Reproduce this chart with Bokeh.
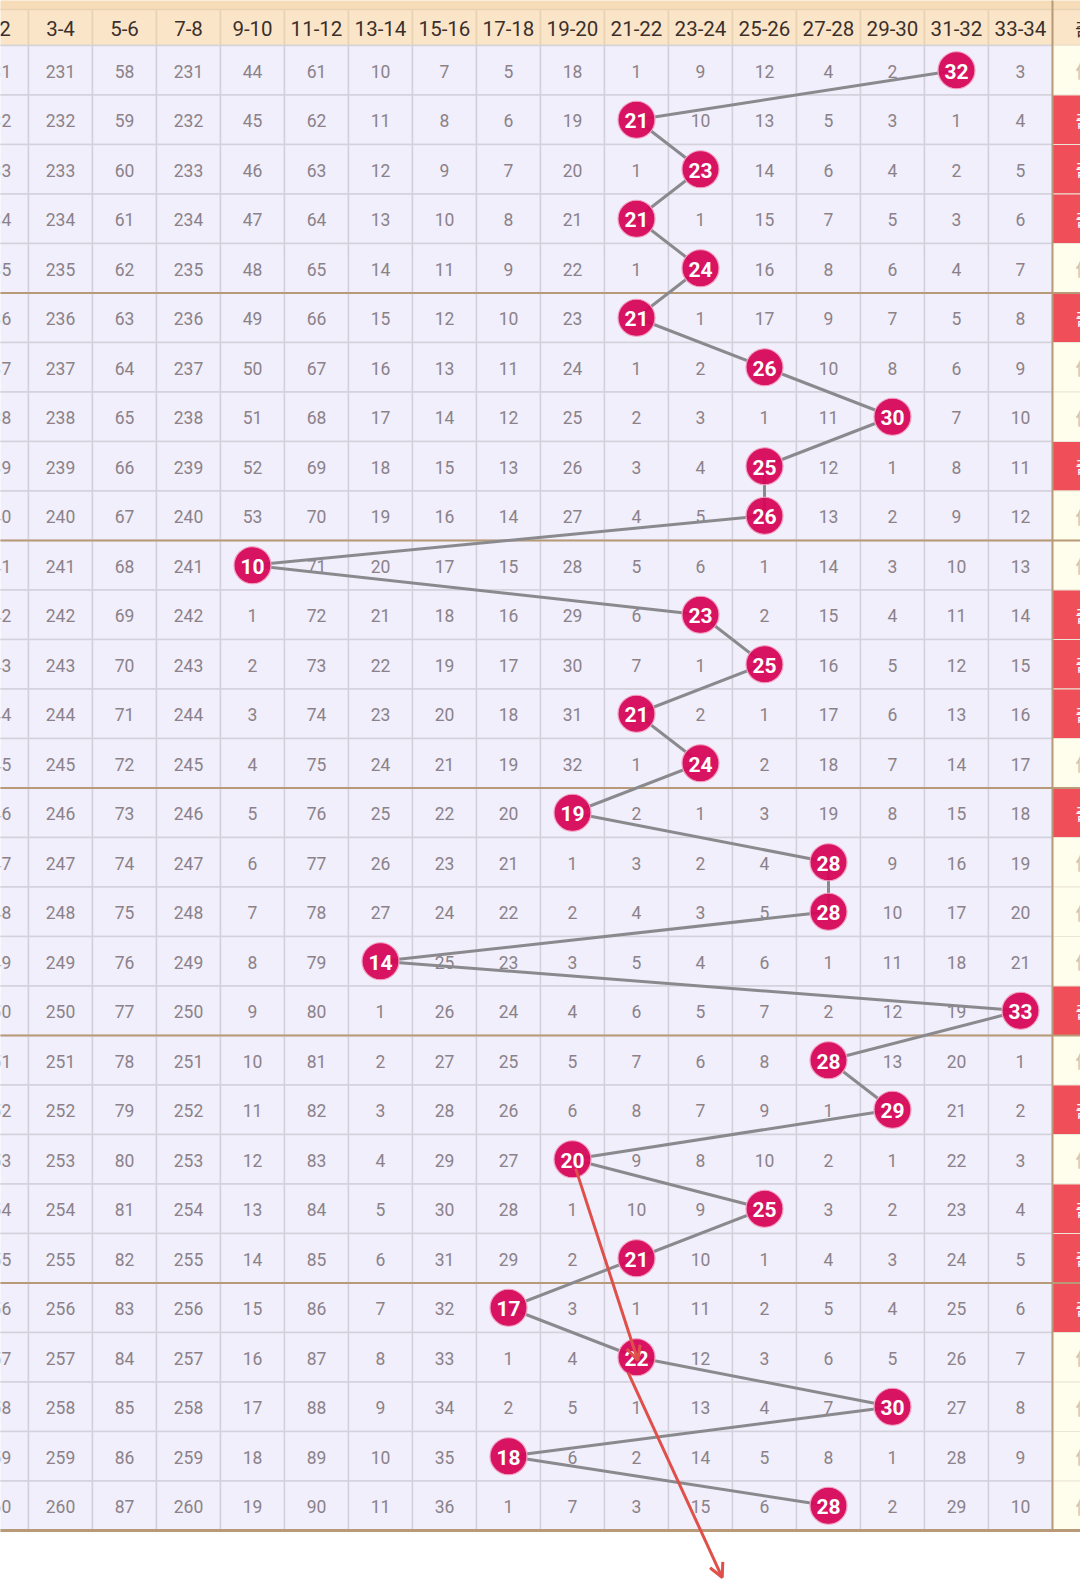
from bokeh.plotting import figure
from bokeh.models import Range1d, ColumnDataSource, Arrow, OpenHead
from bokeh.core.properties import value
from bokeh.embed import file_html
from bokeh.resources import INLINE

# ---------------- data ----------------
headers = ["1-2", "3-4", "5-6", "7-8", "9-10", "11-12", "13-14", "15-16", "17-18",
           "19-20", "21-22", "23-24", "25-26", "27-28", "29-30", "31-32", "33-34"]
side_header = "奇偶"
rows = list(range(1, 31))
balls = [32, 21, 23, 21, 24, 21, 26, 30, 25, 26, 10, 23, 25, 21, 24,
         19, 28, 28, 14, 33, 28, 29, 20, 25, 21, 17, 22, 30, 18, 28]

miss_01_02 = [231, 232, 233, 234, 235, 236, 237, 238, 239, 240, 241, 242, 243, 244, 245,
              246, 247, 248, 249, 250, 251, 252, 253, 254, 255, 256, 257, 258, 259, 260]
miss_03_04 = [231, 232, 233, 234, 235, 236, 237, 238, 239, 240, 241, 242, 243, 244, 245,
              246, 247, 248, 249, 250, 251, 252, 253, 254, 255, 256, 257, 258, 259, 260]
miss_05_06 = [58, 59, 60, 61, 62, 63, 64, 65, 66, 67, 68, 69, 70, 71, 72,
              73, 74, 75, 76, 77, 78, 79, 80, 81, 82, 83, 84, 85, 86, 87]
miss_07_08 = [231, 232, 233, 234, 235, 236, 237, 238, 239, 240, 241, 242, 243, 244, 245,
              246, 247, 248, 249, 250, 251, 252, 253, 254, 255, 256, 257, 258, 259, 260]
miss_09_10 = [44, 45, 46, 47, 48, 49, 50, 51, 52, 53, 0, 1, 2, 3, 4,
              5, 6, 7, 8, 9, 10, 11, 12, 13, 14, 15, 16, 17, 18, 19]
miss_11_12 = [61, 62, 63, 64, 65, 66, 67, 68, 69, 70, 71, 72, 73, 74, 75,
              76, 77, 78, 79, 80, 81, 82, 83, 84, 85, 86, 87, 88, 89, 90]
miss_13_14 = [10, 11, 12, 13, 14, 15, 16, 17, 18, 19, 20, 21, 22, 23, 24,
              25, 26, 27, 0, 1, 2, 3, 4, 5, 6, 7, 8, 9, 10, 11]
miss_15_16 = [7, 8, 9, 10, 11, 12, 13, 14, 15, 16, 17, 18, 19, 20, 21,
              22, 23, 24, 25, 26, 27, 28, 29, 30, 31, 32, 33, 34, 35, 36]
miss_17_18 = [5, 6, 7, 8, 9, 10, 11, 12, 13, 14, 15, 16, 17, 18, 19,
              20, 21, 22, 23, 24, 25, 26, 27, 28, 29, 0, 1, 2, 0, 1]
miss_19_20 = [18, 19, 20, 21, 22, 23, 24, 25, 26, 27, 28, 29, 30, 31, 32,
              0, 1, 2, 3, 4, 5, 6, 0, 1, 2, 3, 4, 5, 6, 7]
miss_21_22 = [1, 0, 1, 0, 1, 0, 1, 2, 3, 4, 5, 6, 7, 0, 1,
              2, 3, 4, 5, 6, 7, 8, 9, 10, 0, 1, 0, 1, 2, 3]
miss_23_24 = [9, 10, 0, 1, 0, 1, 2, 3, 4, 5, 6, 0, 1, 2, 0,
              1, 2, 3, 4, 5, 6, 7, 8, 9, 10, 11, 12, 13, 14, 15]
miss_25_26 = [12, 13, 14, 15, 16, 17, 0, 1, 0, 0, 1, 2, 0, 1, 2,
              3, 4, 5, 6, 7, 8, 9, 10, 0, 1, 2, 3, 4, 5, 6]
miss_27_28 = [4, 5, 6, 7, 8, 9, 10, 11, 12, 13, 14, 15, 16, 17, 18,
              19, 0, 0, 1, 2, 0, 1, 2, 3, 4, 5, 6, 7, 8, 0]
miss_29_30 = [2, 3, 4, 5, 6, 7, 8, 0, 1, 2, 3, 4, 5, 6, 7,
              8, 9, 10, 11, 12, 13, 0, 1, 2, 3, 4, 5, 0, 1, 2]
miss_31_32 = [0, 1, 2, 3, 4, 5, 6, 7, 8, 9, 10, 11, 12, 13, 14,
              15, 16, 17, 18, 19, 20, 21, 22, 23, 24, 25, 26, 27, 28, 29]
miss_33_34 = [3, 4, 5, 6, 7, 8, 9, 10, 11, 12, 13, 14, 15, 16, 17,
              18, 19, 20, 21, 0, 1, 2, 3, 4, 5, 6, 7, 8, 9, 10]

miss_columns = [miss_01_02, miss_03_04, miss_05_06, miss_07_08, miss_09_10, miss_11_12,
                miss_13_14, miss_15_16, miss_17_18, miss_19_20, miss_21_22, miss_23_24,
                miss_25_26, miss_27_28, miss_29_30, miss_31_32, miss_33_34]

# hand-drawn red annotation arrows (column units, row units)
arrow_x_start = [9.05, 9.87]
arrow_y_start = [23.19, 27.31]
arrow_x_end = [10.02, 11.34]
arrow_y_end = [27.06, 31.45]

# ---------------- styles ----------------
FONT = "Roboto"
CELL_BG = "#f0effb"
GRID = "#d3d1dc"
HEAD_BG = "#fae5c9"
HEAD_TOP = "#f6dcb8"
HEAD_TXT = "#3b302c"
CELL_TXT = "#8c8189"
BALL = "#d6075a"
SEP = "#b99a78"
CREAM = "#fffdeb"
RED = "#f04f59"
LINE = "#8a8a8e"
ARROW = "#e0504b"

ncol = len(headers)
p = figure(width=1080, height=1580,
           x_range=Range1d(0.0625, 16.9375), y_range=Range1d(31.5101, -0.4091),
           output_backend="svg", toolbar_location=None, min_border=0,
           x_axis_location=None, y_axis_location=None)
p.grid.visible = False
p.outline_line_color = None
p.background_fill_color = "white"
p.border_fill_color = "white"

# header
hx = list(range(ncol))
p.quad(left=-0.5, right=17.6, top=-0.45, bottom=-0.2273, fill_color=HEAD_TOP, line_color=None)
p.rect(x=hx, y=0.1364, width=1, height=0.7273, fill_color=HEAD_BG, line_color="#e8d2b4", line_width=1.5)
p.rect(x=[17.05], y=0.1364, width=1.1, height=0.7273, fill_color=HEAD_BG, line_color="#e8d2b4", line_width=1.5)
p.text(x=hx, y=0.15, text=headers, text_align="center", text_baseline="middle",
       text_font=value(FONT), text_font_size="20.5px", text_color=HEAD_TXT)
p.text(x=[17.15], y=0.15, text=[side_header], text_align="center", text_baseline="middle",
       text_font=value("Noto Sans CJK SC"), text_font_size="19px", text_color=HEAD_TXT)

# body cells
cx, cy, ct = [], [], []
for k, col in enumerate(miss_columns):
    for r, v in zip(rows, col):
        cx.append(k)
        cy.append(r)
        ct.append("" if v == 0 else str(v))
p.rect(x=cx, y=cy, width=1, height=1, fill_color=CELL_BG, line_color=GRID, line_width=1.5)
p.text(x=cx, y=[y + 0.02 for y in cy], text=ct, text_align="center", text_baseline="middle",
       text_font=value(FONT), text_font_size="17.5px", text_color=CELL_TXT)

# odd / even column
odd = [b % 2 == 1 for b in balls]
p.rect(x=[17] * len(rows), y=rows, width=1, height=1,
       fill_color=[RED if o else CREAM for o in odd], line_color="#ece6d6", line_width=1)
p.text(x=[17] * len(rows), y=rows, text=["奇" if o else "偶" for o in odd],
       text_align="center", text_baseline="middle", text_font=value("Noto Sans CJK SC"),
       text_font_size="18px", text_color=["white" if o else "#c9c4b8" for o in odd])

# separators
sep_y = [5.5, 10.5, 15.5, 20.5, 25.5]
p.segment(x0=-0.5, x1=17.6, y0=sep_y, y1=sep_y, line_color=SEP, line_width=2)
p.segment(x0=-0.5, x1=17.6, y0=[30.5], y1=[30.5], line_color=SEP, line_width=3)
p.segment(x0=[16.5], x1=[16.5], y0=[-0.45], y1=[30.5], line_color=SEP, line_width=2)

# trend line, balls
bx = [(b - 1) // 2 for b in balls]
p.line(x=bx, y=rows, line_color=LINE, line_width=3)
p.scatter(x=bx, y=rows, size=37, fill_color=BALL, fill_alpha=0.95,
          line_color="#f3a0c0", line_width=1.2)
p.text(x=bx, y=[r + 0.02 for r in rows], text=[str(b) for b in balls], text_align="center",
       text_baseline="middle", text_font=value(FONT), text_font_style="bold",
       text_font_size="21px", text_color="white")

# red annotation arrows
asrc = ColumnDataSource(dict(xs=arrow_x_start, ys=arrow_y_start, xe=arrow_x_end, ye=arrow_y_end))
p.add_layout(Arrow(end=OpenHead(size=14, line_color=ARROW, line_width=3),
                   x_start="xs", y_start="ys", x_end="xe", y_end="ye", source=asrc,
                   line_color=ARROW, line_width=3))

open("out.html", "w").write(file_html(p, INLINE))
